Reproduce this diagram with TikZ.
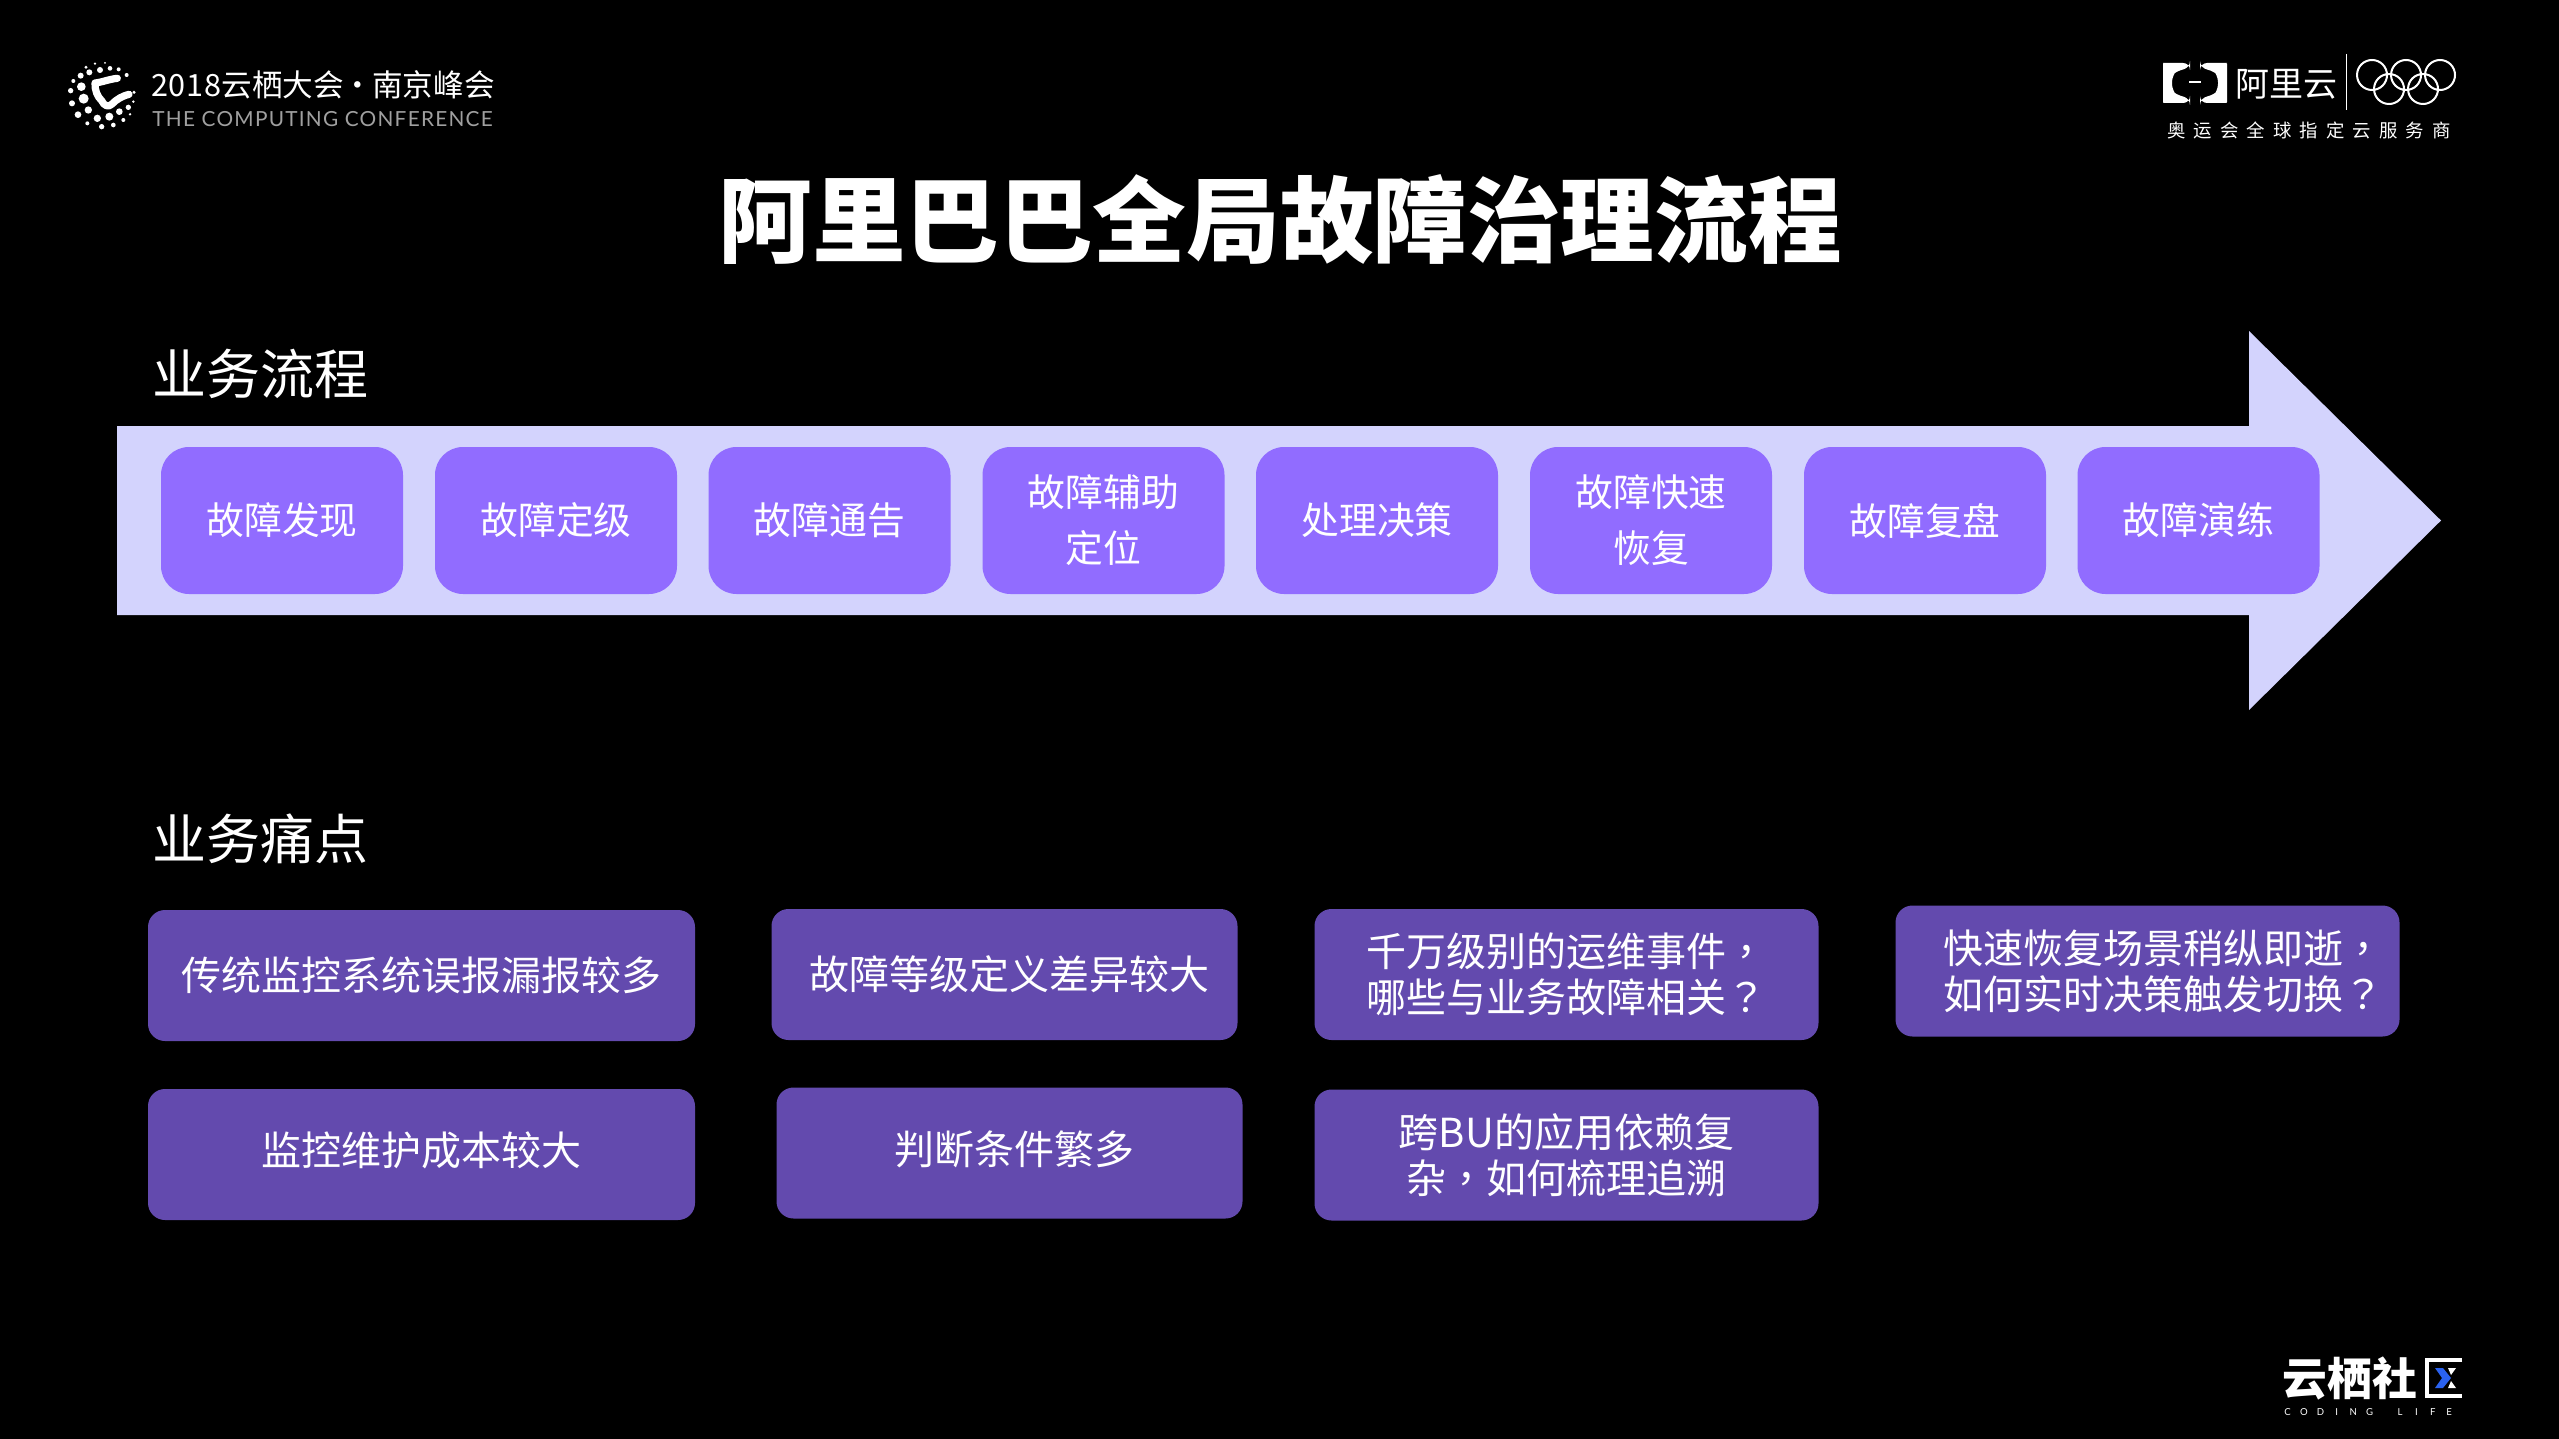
\documentclass[tikz,border=0pt]{standalone}
\usepackage{fontspec}
\setmainfont{Noto Sans CJK SC}
\newfontfamily\tcpunct{Noto Sans CJK TC}
\newfontfamily\latinlogo[LetterSpace=6]{Lato}
\newfontfamily\codelife{Lato}
\newfontfamily\spacedcjk[LetterSpace=44]{Noto Sans CJK SC}
\newcommand\clch[1]{\makebox[8.2pt]{#1}}
\newcommand\updepth{\rule[-5.5pt]{0pt}{1pt}}
\definecolor{bandc}{HTML}{D3D3FD}
\definecolor{stepc}{HTML}{916CFF}
\definecolor{painc}{HTML}{634AAE}
\definecolor{logoblue}{HTML}{2A62F0}
\definecolor{subgray}{HTML}{A0A0A0}
\tikzset{
 stepbox/.style={fill=stepc,rounded corners=14pt,minimum width=121pt,minimum height=73.5pt,inner sep=0pt,
   text=white,align=center,font=\fontsize{18.9pt}{28pt}\selectfont},
 painbox/.style={fill=painc,rounded corners=8.5pt,inner sep=0pt,minimum height=65.5pt,
   text=white,align=center,font=\fontsize{20pt}{23pt}\selectfont},
 heading/.style={text=white,anchor=west,inner sep=0pt,font=\fontsize{27pt}{30pt}\selectfont},
 ringstyle/.style={draw=white,line width=1pt},
}
\begin{document}
\begin{tikzpicture}[x=0.5pt,y=-0.5pt]
\useasboundingbox[fill=black] (0,0) rectangle (2559,1439);

% title and headings
\node[text=white,inner sep=0pt,font=\fontsize{46.8pt}{50pt}\selectfont\bfseries] (title) at (1280,220) {阿里巴巴全局故障治理流程};
\node[heading] (h1) at (152.5,374) {业务流程};
\node[heading] (h2) at (152.5,839) {业务痛点};

% big arrow
\fill[bandc] (117,426) -- (2249,426) -- (2249,331) -- (2441,520.5) -- (2249,710) -- (2249,615) -- (117,615) -- cycle;

% process steps
\node[stepbox] (s1) at (282,520.5) {故障发现};
\node[stepbox] (s2) at (556,520.5) {故障定级};
\node[stepbox] (s3) at (829.5,520.5) {故障通告};
\node[stepbox] (s4) at (1103.5,520.5) {故障辅助\\定位};
\node[stepbox] (s5) at (1377,520.5) {处理决策};
\node[stepbox] (s6) at (1651,520.5) {故障快速\\恢复};
\node[stepbox] (s7) at (1925,520.5) {故障复盘};
\node[stepbox] (s8) at (2198.5,520.5) {故障演练};

% pain points
\node[painbox,minimum width=273.5pt] (p1) at (421.5,975.5) {传统监控系统误报漏报较多};
\node[painbox,minimum width=233pt] (p2) at (1004.5,974.5) {\hspace*{5pt}故障等级定义差异较大};
\node[painbox,minimum width=252pt] (p3) at (1566.5,974.5) {千万级别的运维事件{\tcpunct ，}\\哪些与业务故障相关{\tcpunct ？}};
\node[painbox,minimum width=252pt] (p4) at (2147.5,971) {\hspace*{16pt}快速恢复场景稍纵即逝{\tcpunct ，}\\\hspace*{16pt}如何实时决策触发切换{\tcpunct ？}};
\node[painbox,minimum width=273.5pt] (p5) at (421.5,1154.5) {监控维护成本较大\updepth};
\node[painbox,minimum width=233pt] (p6) at (1009.5,1153) {\hspace*{5pt}判断条件繁多\updepth};
\node[painbox,minimum width=252pt] (p7) at (1566.5,1155) {跨BU的应用依赖复\\杂{\tcpunct ，}如何梳理追溯};

% conference logo
\begin{scope}[shift={(60,55)},x=.16667pt,y=-.16667pt]
 \fill[white] (105,26) circle (4) (135,24) circle (3) (78,37) circle (5) (120,45) circle (9)
  (150,40) circle (7) (176,43) circle (6) (200,60) circle (6) (88,52) circle (9) (62,62) circle (9)
  (40,78) circle (6) (32,107) circle (8) (64,95) circle (13) (36,145) circle (9) (71,131) circle (15)
  (85,165) circle (11) (54,179) circle (10) (112,190) circle (11) (148,185) circle (12) (178,170) circle (10)
  (205,157) circle (8) (190,195) circle (6) (160,210) circle (7) (125,215) circle (8) (82,205) circle (6)
  (222,112) circle (5) (220,140) circle (4) (210,178) circle (4);
 \draw[white,line width=3.6pt,line cap=round,line join=round] (172,70) .. controls (150,72) and (125,82) .. (105,84)
   .. controls (104,105) and (112,125) .. (125,137) .. controls (132,152) and (145,158) .. (155,148)
   .. controls (170,132) and (190,122) .. (207,118);
 \fill[white] (105,85) circle (8);
\end{scope}
\node[text=white,anchor=west,inner sep=0pt,font=\fontsize{15.3pt}{18pt}\selectfont] (conf) at (151,85) {2\kern.3pt0\kern.3pt1\kern.3pt8\kern.3pt云栖大会\kern-.6pt·\kern-.6pt南京峰会};
\node[text=subgray,anchor=west,inner sep=0pt,font=\fontsize{10.4pt}{12pt}\latinlogo] (confen) at (152,119) {THE COMPUTING CONFERENCE};

% Alibaba Cloud / Olympic logo
\fill[white,rounded corners=3.5pt] (2190,63) -- (2170,63) .. controls (2165,63) and (2163,66) .. (2163,71) -- (2163,95) .. controls (2163,100) and (2165,103) .. (2170,103) -- (2190,103) -- (2190,98) -- (2176,95) -- (2172,91) -- (2172,75) -- (2176,71) -- (2190,68) -- cycle;
\fill[white,rounded corners=3.5pt] (2200,63) -- (2220,63) .. controls (2225,63) and (2227,66) .. (2227,71) -- (2227,95) .. controls (2227,100) and (2225,103) .. (2220,103) -- (2200,103) -- (2200,98) -- (2214,95) -- (2218,91) -- (2218,75) -- (2214,71) -- (2200,68) -- cycle;
\fill[white] (2189,81.5) rectangle (2201,83);
\node[text=white,inner sep=0pt,font=\fontsize{17pt}{18pt}\selectfont] (aliyun) at (2286,84) {阿里云};
\draw[white,line width=.5pt] (2346,54) -- (2346,110);
\draw[ringstyle] (2372,75) circle (15) (2406,75) circle (15) (2440,75) circle (15) (2389,89) circle (15) (2423,89) circle (15);
\node[text=white,inner sep=0pt,font=\fontsize{9.2pt}{11pt}\spacedcjk] (olympic) at (2309,130) {奥运会全球指定云服务商};

% community logo
\node[text=white,anchor=west,inner sep=0pt,font=\fontsize{22.4pt}{24pt}\selectfont\bfseries] (comm) at (2282,1378) {云栖社};
\draw[white,line width=2pt] (2462,1360) -- (2427,1360) -- (2427,1396) -- (2462,1396);
\fill[logoblue] (2435,1368) -- (2443,1368) -- (2451,1378) -- (2443,1388) -- (2435,1388) -- (2442,1378) -- cycle;
\fill[white] (2448,1368) -- (2456,1368) -- (2451,1375) -- cycle (2448,1388) -- (2456,1388) -- (2451,1381) -- cycle;
\node[text=white,anchor=west,inner sep=0pt,font=\fontsize{4.8pt}{6pt}\codelife] (code) at (2279,1412) {\clch{C}\clch{O}\clch{D}\clch{I}\clch{N}\clch{G}\hspace{7pt}\clch{L}\clch{I}\clch{F}\clch{E}};
\end{tikzpicture}
\end{document}
